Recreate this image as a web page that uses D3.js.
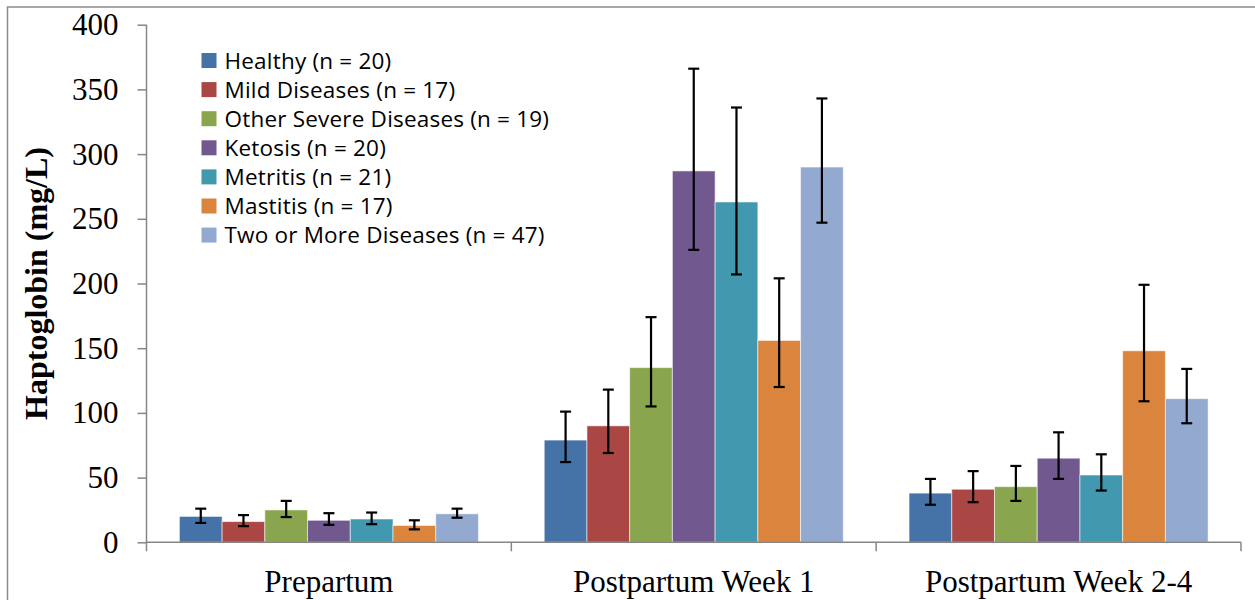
<!DOCTYPE html>
<html>
<head>
<meta charset="utf-8">
<script src="https://cdn.jsdelivr.net/npm/d3@7"></script>
<style>
  html, body { margin: 0; padding: 0; background: #ffffff; }
  svg { display: block; }
</style>
</head>
<body>
<svg id="chart" width="1255" height="600"></svg>
<script>
// Periods along the x axis
const periods = ["Prepartum", "Postpartum Week 1", "Postpartum Week 2-4"];

// Disease groups (one bar per group in each period)
const groups = [
  "Healthy (n = 20)",
  "Mild Diseases (n = 17)",
  "Other Severe Diseases (n = 19)",
  "Ketosis (n = 20)",
  "Metritis (n = 21)",
  "Mastitis (n = 17)",
  "Two or More Diseases (n = 47)"
];

// Mean haptoglobin (mg/L) per group, one array per period
const meanPre   = [20, 16, 25, 17, 18, 13, 22];
const meanWk1   = [79, 90, 135, 287, 263, 156, 290];
const meanWk24  = [38, 41, 43, 65, 52, 148, 111];

// Upper and lower ends of the error bars
const upperPre  = [26, 21, 32, 22.5, 23, 17, 26];
const lowerPre  = [15, 12.5, 19.5, 13.5, 14, 10, 19];
const upperWk1  = [101, 118, 174, 366, 336, 204, 343];
const lowerWk1  = [62, 69, 105, 226, 207, 120, 247];
const upperWk24 = [49, 55, 59, 85, 68, 199, 134];
const lowerWk24 = [29, 31, 32, 49, 40, 109, 92];

const yTicks = [0, 50, 100, 150, 200, 250, 300, 350, 400];

const colors = ["#4572A7", "#AA4643", "#89A54E", "#71588F", "#4198AF", "#DB843D", "#93A9CF"];

const means  = [meanPre, meanWk1, meanWk24];
const uppers = [upperPre, upperWk1, upperWk24];
const lowers = [lowerPre, lowerWk1, lowerWk24];

const rows = [];
periods.forEach((p, pi) => {
  groups.forEach((g, gi) => {
    rows.push({ period: p, group: g, gi, mean: means[pi][gi], hi: uppers[pi][gi], lo: lowers[pi][gi] });
  });
});

const svg = d3.select("#chart");
const axisColor = "#868686";

// Outer frame of the chart area
svg.append("rect")
  .attr("x", 7.5).attr("y", 7)
  .attr("width", 1300).attr("height", 700)
  .attr("fill", "none")
  .attr("stroke", "#8a8a8a")
  .attr("stroke-width", 1.5);

const plotLeft = 146.5, plotRight = 1241, plotTop = 24.7, plotBottom = 542.3;

const x0 = d3.scaleBand().domain(periods).range([plotLeft, plotRight]).paddingInner(0).paddingOuter(0);
const x1 = d3.scaleBand().domain(groups).range([0, x0.bandwidth()]).paddingInner(0).paddingOuter(0.77);
const y = d3.scaleLinear().domain([0, 400]).range([plotBottom, plotTop]);

// Bars
svg.append("g").selectAll("rect")
  .data(rows)
  .join("rect")
  .attr("x", d => x0(d.period) + x1(d.group))
  .attr("y", d => y(d.mean))
  .attr("width", x1.bandwidth())
  .attr("height", d => y(0) - y(d.mean))
  .attr("fill", d => colors[d.gi])
  .attr("stroke", "rgba(255,255,255,0.55)")
  .attr("stroke-width", 1);

// Y axis
const yAxis = d3.axisLeft(y).tickValues(yTicks).tickSize(9).tickPadding(19).tickFormat(d3.format("d"));
const gy = svg.append("g").attr("transform", `translate(${plotLeft},0)`).call(yAxis);
gy.select(".domain").attr("stroke", axisColor).attr("stroke-width", 1.5)
  .attr("d", `M0,${plotTop}V${plotBottom + 9}`);
gy.selectAll(".tick line").attr("stroke", axisColor).attr("stroke-width", 1.5);
gy.selectAll(".tick text")
  .attr("fill", "#000")
  .style("font-family", "'Liberation Serif', 'Times New Roman', serif")
  .style("font-size", "31px");

// X axis: the line plus ticks at the period boundaries
const gx = svg.append("g").attr("transform", `translate(0,${plotBottom})`);
gx.append("line")
  .attr("x1", plotLeft).attr("x2", plotRight)
  .attr("y1", 0).attr("y2", 0)
  .attr("stroke", axisColor).attr("stroke-width", 1.5);
const boundaries = periods.map(p => x0(p)).concat([x0(periods[periods.length - 1]) + x0.bandwidth()]);
gx.selectAll("line.bt")
  .data(boundaries.slice(1))
  .join("line")
  .attr("class", "bt")
  .attr("x1", d => d).attr("x2", d => d)
  .attr("y1", 0).attr("y2", 9)
  .attr("stroke", axisColor).attr("stroke-width", 1.5);
gx.selectAll("text")
  .data(periods)
  .join("text")
  .attr("x", d => x0(d) + x0.bandwidth() / 2)
  .attr("y", 50)
  .attr("text-anchor", "middle")
  .style("font-family", "'Liberation Serif', 'Times New Roman', serif")
  .style("font-size", "31px")
  .attr("fill", "#000")
  .text(d => d);

// Error bars
const eb = svg.append("g").attr("stroke", "#000").attr("stroke-width", 2.2).attr("fill", "none");
const cap = 5.5;
rows.forEach(d => {
  const cx = x0(d.period) + x1(d.group) + x1.bandwidth() / 2;
  eb.append("line").attr("x1", cx).attr("x2", cx).attr("y1", y(d.hi)).attr("y2", y(d.lo));
  eb.append("line").attr("x1", cx - cap).attr("x2", cx + cap).attr("y1", y(d.hi)).attr("y2", y(d.hi));
  eb.append("line").attr("x1", cx - cap).attr("x2", cx + cap).attr("y1", y(d.lo)).attr("y2", y(d.lo));
});

// Y axis title
svg.append("text")
  .attr("transform", `translate(47,${(plotTop + plotBottom) / 2}) rotate(-90)`)
  .attr("text-anchor", "middle")
  .style("font-family", "'Liberation Serif', 'Times New Roman', serif")
  .style("font-size", "32px")
  .style("font-weight", "bold")
  .attr("fill", "#000")
  .text("Haptoglobin (mg/L)");

// Legend
const legend = svg.append("g").attr("transform", "translate(201.5,53)");
const rowH = 29.1;
const li = legend.selectAll("g")
  .data(groups)
  .join("g")
  .attr("transform", (d, i) => `translate(0,${i * rowH})`);
li.append("rect")
  .attr("width", 15).attr("height", 15)
  .attr("fill", (d, i) => colors[i]);
li.append("text")
  .attr("x", 23)
  .attr("y", 7.5)
  .attr("dy", "0.36em")
  .style("font-family", "'Open Sans', 'Noto Sans', sans-serif")
  .style("font-size", "22.5px")
  .style("letter-spacing", "0.2px")
  .attr("fill", "#000")
  .text(d => d);
</script>
</body>
</html>
